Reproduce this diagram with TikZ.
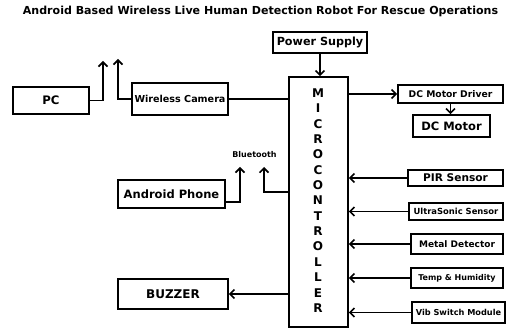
\documentclass[tikz,border=0pt]{standalone}
\usepackage{fontspec}
\setmainfont{DejaVu Sans}
\usetikzlibrary{arrows.meta,calc}
\newcommand{\fs}[1]{\bfseries\fontsize{#1}{#1}\selectfont}
\tikzset{
  box/.style={draw, line width=1.6pt, inner sep=0pt, font=\bfseries},
  conn/.style={line width=1.6pt},
  arr/.style={line width=1.6pt, -{Straight Barb[length=4.5pt,width=9pt,line width=1.6pt]}},
}
\begin{document}
\begin{tikzpicture}[x=1pt,y=-1pt]
\useasboundingbox[fill=white] (0,0) rectangle (506,328);
\node[font=\fs{11.05}] (title) at (260.5,11) {Android Based Wireless Live Human Detection Robot For Rescue Operations};
\node[box, minimum width=94pt, minimum height=21pt, font=\fs{11.2}] (ps) at (320,42.5) {Power Supply};
\node[box, minimum width=59pt, minimum height=250pt] (micro) at (318.5,202) {};
\node[font=\bfseries\fontsize{12}{15.36}\selectfont, align=center, inner sep=0pt] (mlabel) at (318,200.5) {M\\I\\C\\R\\O\\C\\O\\N\\T\\R\\O\\L\\L\\E\\R};
\node[box, minimum width=76pt, minimum height=27pt, font=\fs{11.7}] (pc) at (51,100.5) {PC};
\node[box, minimum width=96pt, minimum height=32pt, font=\fs{9.6}] (cam) at (180,99) {Wireless Camera};
\node[box, minimum width=105pt, minimum height=18pt, font=\fs{9.2}] (drv) at (450.5,94) {DC Motor Driver};
\node[box, minimum width=77pt, minimum height=22pt, font=\fs{11.5}] (motor) at (451.5,126) {DC Motor};
\node[box, minimum width=107pt, minimum height=28pt, font=\fs{11.5}] (ap) at (171.5,194) {Android Phone};
\node[box, minimum width=110pt, minimum height=30pt, font=\fs{12}] (buz) at (173,294) {BUZZER};
\node[box, minimum width=95pt, minimum height=16pt, font=\fs{10.6}] (pir) at (455.5,178) {PIR Sensor};
\node[box, minimum width=94pt, minimum height=17pt, font=\fs{8.4}] (us) at (456,211.5) {UltraSonic Sensor};
\node[box, minimum width=92pt, minimum height=20pt, font=\fs{9}] (md) at (457,244) {Metal Detector};
\node[box, minimum width=92pt, minimum height=20pt, font=\fs{8}] (th) at (457,278) {Temp \& Humidity};
\node[box, minimum width=93pt, minimum height=21pt, font=\fs{8.2}] (vib) at (458.5,312.5) {Vib Switch Module};
\node[font=\fs{8}] (bt) at (254.5,155) {Bluetooth};
% coordinates
\coordinate (pctip) at (103,61);
\coordinate (camtip) at (118,59);
\coordinate (apout) at ($(ap.east)+(0,8)$);
\coordinate (aptip) at (240,167);
\coordinate (btjoin) at ($(micro.west)+(0,-10)$);
\coordinate (bttip) at (264,167);
% connectors
\draw[arr] (pc.east) -| (pctip);
\draw[arr] (cam.west) -| (camtip);
\draw[conn] (cam.east) -- (cam.east -| micro.west);
\draw[arr] (ps.south) -- (ps.south |- micro.north);
\draw[arr] (micro.east |- drv.west) -- (drv.west);
\draw[arr] (drv.south) -- (drv.south |- motor.north);
\draw[arr] (apout) -| (aptip);
\draw[arr] (btjoin) -| (bttip);
\draw[arr] (micro.west |- buz.east) -- (buz.east);
\draw[arr] (pir.west) -- (pir.west -| micro.east);
\draw[arr] (us.west) -- (us.west -| micro.east);
\draw[arr] (md.west) -- (md.west -| micro.east);
\draw[arr] (th.west) -- (th.west -| micro.east);
\draw[arr] (vib.west) -- (vib.west -| micro.east);
\end{tikzpicture}
\end{document}
